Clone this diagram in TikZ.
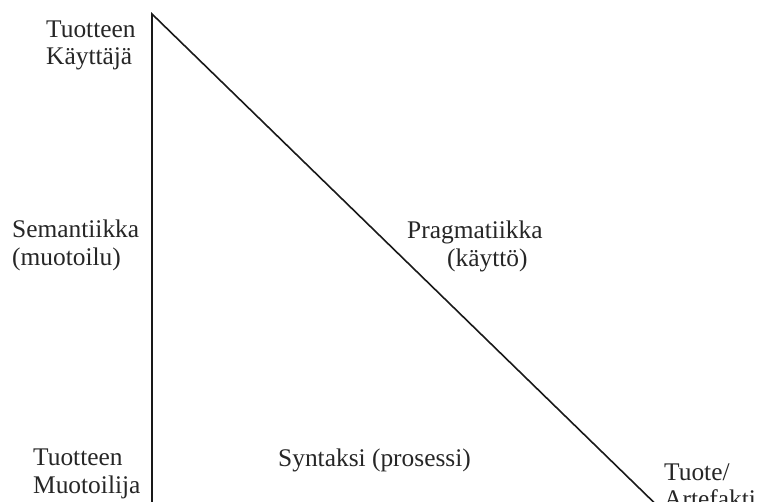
\documentclass[tikz,border=0pt]{standalone}
\usepackage{fontspec}
\setmainfont{Liberation Serif}
\begin{document}
\begin{tikzpicture}[x=1pt,y=-1pt,
  lbl/.style={anchor=base west,inner sep=0pt,font=\fontsize{25.4}{28}\selectfont,text=black!85},
  edge/.style={draw=black!90,line width=1.6pt}]
\useasboundingbox (0,0) rectangle (758,501);
\fill[white] (0,0) rectangle (758,501);
\coordinate (top) at (152,14);
\coordinate (bottomleft) at (152,520);
\coordinate (bottomright) at (672,520);
\draw[edge] (bottomleft) -- (top) -- (bottomright);
\node[lbl] (userA) at (46,37) {Tuotteen};
\node[lbl] (userB) at (46,64) {Käyttäjä};
\node[lbl] (semA) at (12,237) {Semantiikka};
\node[lbl] (semB) at (12,265) {(muotoilu)};
\node[lbl] (desA) at (33,465) {Tuotteen};
\node[lbl] (desB) at (33,493) {Muotoilija};
\node[lbl] (pragA) at (407,238) {Pragmatiikka};
\node[lbl] (pragB) at (447,266) {(käyttö)};
\node[lbl] (syn) at (278,466) {Syntaksi (prosessi)};
\node[lbl] (artA) at (664,480) {Tuote/};
\node[lbl] (artB) at (664,507) {Artefakti};
\end{tikzpicture}
\end{document}
